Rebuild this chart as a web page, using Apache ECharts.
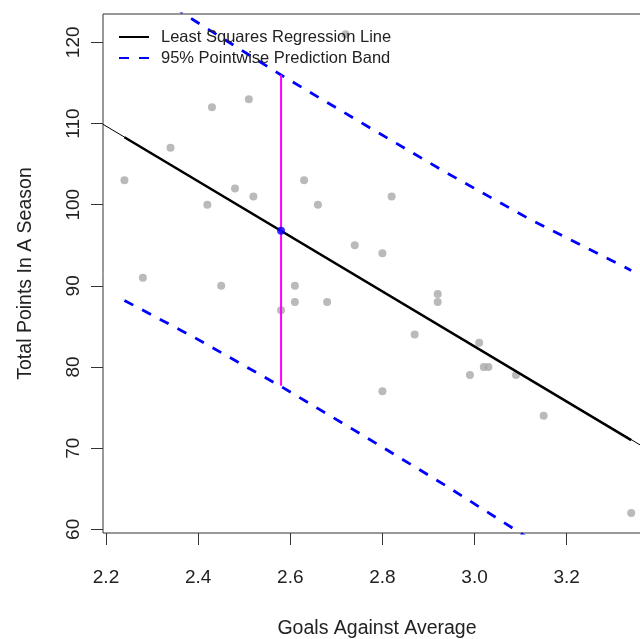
<!DOCTYPE html>
<html><head><meta charset="utf-8">
<script src="https://cdn.jsdelivr.net/npm/echarts@6/dist/echarts.min.js"></script>
<style>html,body{margin:0;padding:0;background:#fff;overflow:hidden}#c{width:680px;height:639px}</style>
</head><body><div id="c"></div>
<script>
// Observed data (goals against average vs total points)
const gaa = [2.72,2.43,2.51,2.34,2.24,2.48,2.52,2.42,2.63,2.66,2.74,2.28,2.45,2.61,2.61,2.58,2.68,2.82,2.80,2.92,2.92,2.87,3.01,3.02,3.03,2.99,3.09,2.80,3.15,3.34];
const points = [121,112,113,107,103,102,101,100,103,100,95,91,90,90,88,87,88,101,94,89,88,84,83,80,80,79,79,77,74,62];
// Least squares line
const regX = [2.24, 3.34];
const regY = [108.3, 71.0];
const ablineX = [2.1935, 3.383];
const ablineY = [109.9, 69.6];
// 95% pointwise prediction band
const bandX = [2.24, 2.39, 2.58, 2.76, 2.94, 3.12, 3.34];
const bandUpper = [128.4, 122.75, 115.97, 109.9, 103.9, 98.2, 91.9];
const bandLower = [88.2, 83.7, 77.6, 71.5, 65.3, 58.8, 50.2];
// Prediction at x0
const predX = 2.58;
const predY = 96.8;
const predUpper = 115.97;
const predLower = 77.69;
// Tick labels
const xTicks = [2.2, 2.4, 2.6, 2.8, 3.0, 3.2];
const yTicks = [60, 70, 80, 90, 100, 110, 120];

const zip = (a, b) => a.map((v, i) => [v, b[i]]);
const FONT = 'Liberation Sans, Arial, sans-serif';
const chart = echarts.init(document.getElementById('c'));
chart.setOption({
  animation: false,
  backgroundColor: '#fff',
  textStyle: { fontFamily: FONT },
  grid: { left: 103, top: 14, width: 548, height: 519, show: true, borderColor: '#333', borderWidth: 1, containLabel: false, outerBoundsMode: 'none' },
  xAxis: {
    type: 'value', min: 2.1935, max: 3.383,
    axisLine: { show: false },
    axisTick: { show: true, customValues: xTicks, length: 12, lineStyle: { color: '#333' } },
    axisLabel: { customValues: xTicks, formatter: v => v.toFixed(1), fontSize: 19, color: '#222', margin: 35, fontFamily: FONT },
    splitLine: { show: false },
    name: 'Goals Against Average', nameLocation: 'middle', nameGap: 86,
    nameTextStyle: { fontSize: 19.5, color: '#222', fontFamily: FONT }
  },
  yAxis: {
    type: 'value', min: 59.55, max: 123.49,
    axisLine: { show: false },
    axisTick: { show: true, customValues: yTicks, length: 12, lineStyle: { color: '#333' } },
    axisLabel: { customValues: yTicks, rotate: 90, fontSize: 19, color: '#222', margin: 20, fontFamily: FONT },
    splitLine: { show: false },
    name: 'Total Points In A Season', nameLocation: 'middle', nameGap: 67,
    nameTextStyle: { fontSize: 19.5, color: '#222', fontFamily: FONT }
  },
  legend: {
    left: 118, top: 27, orient: 'vertical', padding: 0,
    itemWidth: 30, itemHeight: 14, itemGap: 1,
    itemStyle: { opacity: 0 },
    textStyle: { fontSize: 16.5, color: '#222', lineHeight: 20, fontFamily: FONT, padding: [0, 0, 0, 7] },
    data: ['Least Squares Regression Line', '95% Pointwise Prediction Band']
  },
  series: [
    { type: 'scatter', name: 'data', data: zip(gaa, points), symbolSize: 8, itemStyle: { color: '#A9A9A9' }, z: 2 },
    { type: 'line', name: 'abline', data: zip(ablineX, ablineY), symbol: 'none', lineStyle: { color: '#000', width: 1 }, z: 3 },
    { type: 'line', name: 'Least Squares Regression Line', data: zip(regX, regY), symbol: 'none', lineStyle: { color: '#000', width: 2.5 }, itemStyle: { color: '#000' }, z: 3 },
    { type: 'line', name: '95% Pointwise Prediction Band', data: zip(bandX, bandUpper), symbol: 'none', lineStyle: { color: '#0000FF', width: 2.8, type: [10, 10] }, itemStyle: { color: '#0000FF' }, z: 3 },
    { type: 'line', name: 'lowerBand', data: zip(bandX, bandLower), symbol: 'none', lineStyle: { color: '#0000FF', width: 2.8, type: [10, 10] }, z: 3 },
    { type: 'line', name: 'interval', data: [[predX, predLower], [predX, predUpper]], symbol: 'none', lineStyle: { color: '#FF00FF', width: 2 }, z: 4 },
    { type: 'scatter', name: 'prediction', data: [[predX, predY]], symbolSize: 8, itemStyle: { color: '#0000FF' }, z: 5 }
  ]
});
</script>
</body></html>
